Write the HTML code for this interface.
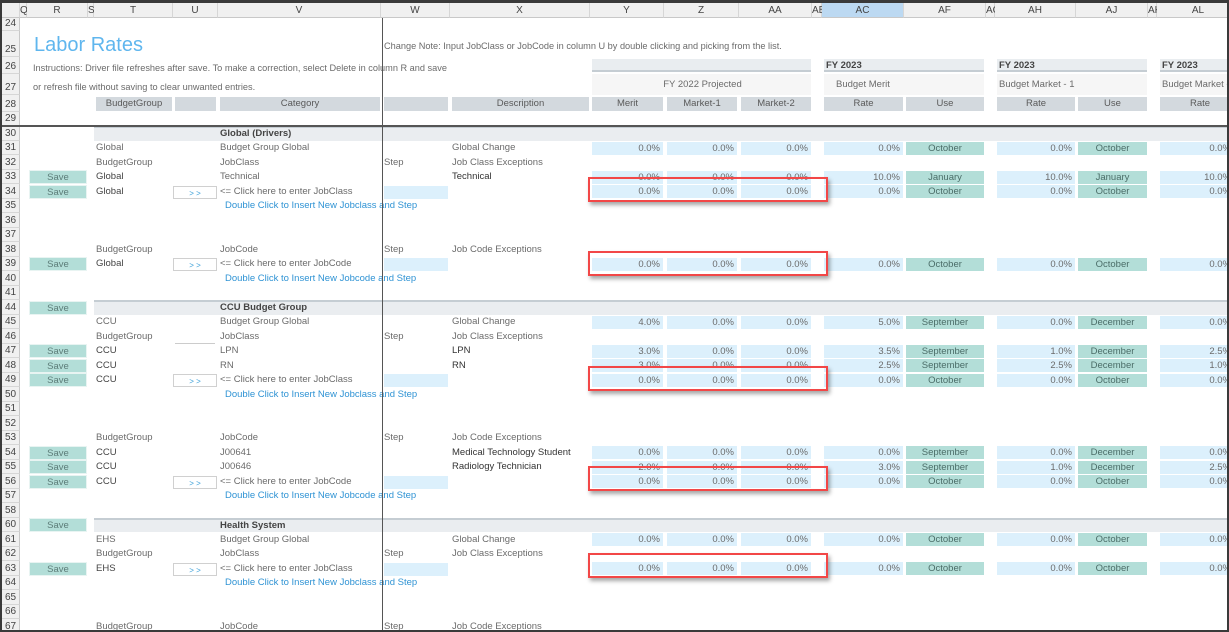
<!DOCTYPE html>
<html><head><meta charset="utf-8">
<style>
*{box-sizing:border-box;margin:0;padding:0}
body{width:1229px;height:632px;overflow:hidden;background:#3a3a3a;font-family:"Liberation Sans",sans-serif}
#sheet{position:absolute;left:2px;top:3px;width:1225px;height:627px;background:#fff;overflow:hidden}
.a{position:absolute;white-space:nowrap;font-size:9.5px;color:#6b6b6b;line-height:14px}
.hd{background:#f0f0f0;border-right:1px solid #d6d6d6;border-bottom:1px solid #c8c8c8;text-align:center;color:#444;font-size:10px}
.rn{background:#f0f0f0;border-bottom:1px solid #d6d6d6;border-right:1px solid #c8c8c8;text-align:center;color:#444;font-size:10px}
.blue{background:#dcf0fc;text-align:right;padding-right:3px}
.teal{background:#b3ded8;text-align:center;color:#4b6d68}
.gh{background:#d3d9de;text-align:center;color:#5a5a5a}
.save{background:#b3ded8;text-align:center;color:#5d7d79;border:1px solid #e8f4f2}
.btn{border:1px solid #d0d0d0;background:#fff;text-align:center;color:#3da0d8;font-size:8px}
.link{color:#2f93d4}
.red{position:absolute;border:2.5px solid #f24747;box-shadow:2px 3px 4px rgba(0,0,0,.35)}
</style></head><body>
<div id="sheet"></div>
<script>
const S=document.getElementById('sheet');
function el(cls,x,y,w,h,txt,name,inter){const d=document.createElement('div');d.className='a '+cls;d.style.left=(x-2)+'px';d.style.top=(y-3)+'px';if(w!=null)d.style.width=w+'px';if(h!=null){d.style.height=h+'px';d.style.lineHeight=h+'px';}if(txt!=null)d.textContent=txt;


S.appendChild(d);return d;}
const cols=[['',2,20],['Q',20,27],['R',27,88],['S',88,94],['T',94,173],['U',173,218],['V',218,381],['W',381,450],['X',450,590],['Y',590,664],['Z',664,739],['AA',739,812],['AB',812,822],['AC',822,904],['AF',904,986],['AG',986,995],['AH',995,1076],['AJ',1076,1148],['AK',1148,1157],['AL',1157,1240]];
cols.forEach(c=>{const d=el('hd',c[1],3,c[2]-c[1],15,c[0],'column-header-'+(c[0]||'corner').toLowerCase(),true);if(c[0]==='AC'){d.style.background='#bcd9f2';}});
const rowsTop=[[24,18,13],[25,31,26],[26,57,17],[27,74,21],[28,95,17],[29,112,14]];
const rowNums=[30,31,32,33,34,35,36,37,38,39,40,41,44,45,46,47,48,49,50,51,52,53,54,55,56,57,58,60,61,62,63,64,65,66,67];
const Y={},H={};
rowsTop.forEach(r=>{Y[r[0]]=r[1];H[r[0]]=r[2];});
rowNums.forEach((n,i)=>{Y[n]=126+i*14.5;H[n]=14.5;});
Object.keys(Y).forEach(n=>{el('rn',2,Y[n],18,H[n],null,'row-number-'+n,true).innerHTML='<span style="position:absolute;bottom:0;left:0;right:0;line-height:13px">'+n+'</span>';});
el('',34,33,200,24,'Labor Rates','sheet-title').style.cssText+='font-size:20px;color:#5fb6ee;line-height:24px';
el('',33,61,450,14,'Instructions:  Driver file refreshes after save.  To make a correction, select Delete in column R and save','instructions-line-1').style.fontSize='9.2px';
el('',33,80,400,14,'or refresh file without saving to clear unwanted entries.','instructions-line-2').style.fontSize='9.2px';
el('',384,39,450,14,'Change Note: Input JobClass or JobCode in column U by double clicking and picking from the list.','change-note').style.fontSize='9.2px';
const bands=[[592,811,'', ''],[824,984,'FY 2023','Budget Merit'],[997,1147,'FY 2023','Budget Market - 1'],[1160,1240,'FY 2023','Budget Market - 2']];
bands.forEach((b,i)=>{const t=el('',b[0],59,b[1]-b[0],13,b[2],'period-header-'+i);t.style.cssText+='background:#e9edf0;border-bottom:2px solid #c5cdd3;font-weight:bold;color:#444;padding-left:2px;line-height:13px';
const s=el('',b[0],74,b[1]-b[0],21,i===0?'FY 2022 Projected':b[3],'measure-header-'+i);s.style.cssText+='background:#f6f6f6;padding-left:'+(i===1?12:2)+'px;line-height:21px'+(i===0?';text-align:center':'');});
const gh=[[96,172,'BudgetGroup'],[175,216,''],[220,380,'Category'],[384,448,''],[452,589,'Description'],[592,663,'Merit'],[667,737,'Market-1'],[741,811,'Market-2'],[824,903,'Rate'],[906,984,'Use'],[997,1075,'Rate'],[1078,1147,'Use'],[1160,1240,'Rate']];
gh.forEach(g=>el('gh',g[0],97,g[1]-g[0],14,g[2],'column-title-'+(g[2]||'blank').toLowerCase()));
const sections={30:'Global (Drivers)',44:'CCU Budget Group',60:'Health System'};
const textRows={
31:['Global','','Budget Group Global','','Global Change'],
32:['BudgetGroup','','JobClass','Step','Job Class Exceptions'],
33:['Global','','Technical','','Technical'],
34:['Global','>>','<= Click here to enter JobClass','',''],
38:['BudgetGroup','','JobCode','Step','Job Code Exceptions'],
39:['Global','>>','<= Click here to enter JobCode','',''],
45:['CCU','','Budget Group Global','','Global Change'],
46:['BudgetGroup','','JobClass','Step','Job Class Exceptions'],
47:['CCU','','LPN','','LPN'],
48:['CCU','','RN','','RN'],
49:['CCU','>>','<= Click here to enter JobClass','',''],
53:['BudgetGroup','','JobCode','Step','Job Code Exceptions'],
54:['CCU','','J00641','','Medical Technology Student'],
55:['CCU','','J00646','','Radiology Technician'],
56:['CCU','>>','<= Click here to enter JobCode','',''],
61:['EHS','','Budget Group Global','','Global Change'],
62:['BudgetGroup','','JobClass','Step','Job Class Exceptions'],
63:['EHS','>>','<= Click here to enter JobClass','',''],
67:['BudgetGroup','','JobCode','Step','Job Code Exceptions']};
const saveRows=[33,34,39,44,47,48,49,54,55,56,60,63];
const linkRows={35:'Double Click to Insert New Jobclass and Step',40:'Double Click to Insert New Jobcode and Step',50:'Double Click to Insert New Jobclass and Step',57:'Double Click to Insert New Jobcode and Step',64:'Double Click to Insert New Jobclass and Step'};
const darkRows=[33,34,39,47,48,49,54,55,56,63];
const valueRows=[31,33,34,39,45,47,48,49,54,55,56,61,63];
const merit=  {31:0,33:0,34:0,39:0,45:4,47:3,48:3,49:0,54:0,55:2,56:0,61:0,63:0};
const mkt1=   {31:0,33:0,34:0,39:0,45:0,47:0,48:0,49:0,54:0,55:0,56:0,61:0,63:0};
const mkt2=   {31:0,33:0,34:0,39:0,45:0,47:0,48:0,49:0,54:0,55:0,56:0,61:0,63:0};
const bmRate= {31:0,33:10,34:0,39:0,45:5,47:3.5,48:2.5,49:0,54:0,55:3,56:0,61:0,63:0};
const bmUse=  {31:'October',33:'January',34:'October',39:'October',45:'September',47:'September',48:'September',49:'October',54:'September',55:'September',56:'October',61:'October',63:'October'};
const b1Rate= {31:0,33:10,34:0,39:0,45:0,47:1,48:2.5,49:0,54:0,55:1,56:0,61:0,63:0};
const b1Use=  {31:'October',33:'January',34:'October',39:'October',45:'December',47:'December',48:'December',49:'October',54:'December',55:'December',56:'October',61:'October',63:'October'};
const b2Rate= {31:0,33:10,34:0,39:0,45:0,47:2.5,48:1,49:0,54:0,55:2.5,56:0,61:0,63:0};
const pct=v=>v.toFixed(1)+'%';
Object.keys(sections).forEach(r=>{const y=Y[r];const b=el('',94,y,1150,14.5,null,'section-band-'+r);b.style.cssText+='background:#eaedf0;border-top:2px solid #c5cdd3';
el('',220,y+1,200,14,sections[r],'section-title-'+r).style.cssText+='font-weight:bold;color:#444';});
Object.keys(textRows).forEach(r=>{const t=textRows[r],y=Y[r]+0.5;const dk=darkRows.includes(+r);
const a=el('',96,y,76,14,t[0],'budget-group-'+r);if(dk)a.style.color='#444';
if(t[1]){el('btn',173,y+1,44,13,'> >','jobclass-picker-'+r,true);el('blue',384,y+1,64,13,'','step-input-'+r,true);}
if(r==46)el('',175,y+13,40,1,'','underline-46').style.background='#ccc';
el('',220,y,160,14,t[2],'category-'+r);
if(t[3])el('',384,y,60,14,t[3],'step-label-'+r);
const x=el('',452,y,137,14,t[4],'description-'+r);if(dk)x.style.color='#333';});
saveRows.forEach(r=>el('save',29,Y[r]+0.5,58,14,'Save','save-button-'+r,true));
Object.keys(linkRows).forEach(r=>el('link',225,Y[r]+0.5,200,14,linkRows[r],'insert-link-'+r,true));
valueRows.forEach(r=>{const y=Y[r]+1,h=13;
el('blue',592,y,71,h,pct(merit[r]),'merit-'+r,true);
el('blue',667,y,70,h,pct(mkt1[r]),'market1-'+r,true);
el('blue',741,y,70,h,pct(mkt2[r]),'market2-'+r,true);
el('blue',824,y,79,h,pct(bmRate[r]),'budget-merit-rate-'+r,true);
el('teal',906,y,78,h,bmUse[r],'budget-merit-use-'+r,true);
el('blue',997,y,78,h,pct(b1Rate[r]),'budget-market1-rate-'+r,true);
el('teal',1078,y,69,h,b1Use[r],'budget-market1-use-'+r,true);
el('blue',1160,y,74,h,pct(b2Rate[r]),'budget-market2-rate-'+r,true);});
el('',2,125,1240,1.5,null,'freeze-line-horizontal').style.background='#555';
el('',381.5,18,1.2,620,null,'freeze-line-vertical').style.background='#555';
[[177,202],[251,276],[366,391],[466,491],[553,578]].forEach((b,i)=>{const d=document.createElement('div');d.className='red';d.style.left=(588-2)+'px';d.style.top=(b[0]-3)+'px';d.style.width='240px';d.style.height=(b[1]-b[0])+'px';


S.appendChild(d);});
</script>
</body></html>
